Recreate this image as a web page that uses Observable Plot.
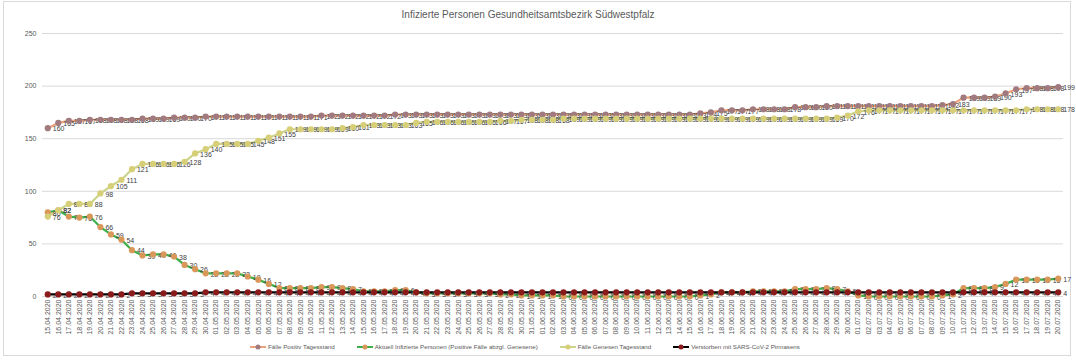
<!DOCTYPE html>
<html><head><meta charset="utf-8">
<script src="https://cdn.jsdelivr.net/npm/d3@7"></script>
<script src="https://cdn.jsdelivr.net/npm/@observablehq/plot@0.6"></script>
<style>
html,body{margin:0;padding:0;background:#fff;}
body{font-family:"Liberation Sans",Arial,sans-serif;}
#wrap{position:relative;width:1076px;height:361px;overflow:hidden;}
#frame{position:absolute;left:3px;top:1px;width:1068px;height:355px;border:1px solid #d9d9d9;box-sizing:border-box;}
#title{position:absolute;left:0;top:9px;width:1056px;text-align:center;font-size:10px;color:#595959;}
#chart{position:absolute;left:0;top:24px;}
#legend{position:absolute;left:0;top:343px;width:1050px;display:flex;justify-content:center;gap:22px;font-size:6.2px;color:#595959;align-items:center;}
#legend .it{display:flex;align-items:center;gap:2px;}
</style></head>
<body>
<div id="wrap">
<div id="frame"></div>
<div id="title">Infizierte Personen Gesundheitsamtsbezirk Südwestpfalz</div>
<div id="chart"></div>
<div id="legend"></div>
</div>
<script>
const dates = ["15.04.2020","16.04.2020","17.04.2020","18.04.2020","19.04.2020","20.04.2020","21.04.2020","22.04.2020","23.04.2020","24.04.2020","25.04.2020","26.04.2020","27.04.2020","28.04.2020","29.04.2020","30.04.2020",
"01.05.2020","02.05.2020","03.05.2020","04.05.2020","05.05.2020","06.05.2020","07.05.2020","08.05.2020","09.05.2020","10.05.2020","11.05.2020","12.05.2020","13.05.2020","14.05.2020","15.05.2020","16.05.2020","17.05.2020","18.05.2020","19.05.2020","20.05.2020","21.05.2020","22.05.2020","23.05.2020","24.05.2020","25.05.2020","26.05.2020","27.05.2020","28.05.2020","29.05.2020","30.05.2020","31.05.2020",
"01.06.2020","02.06.2020","03.06.2020","04.06.2020","05.06.2020","06.06.2020","07.06.2020","08.06.2020","09.06.2020","10.06.2020","11.06.2020","12.06.2020","13.06.2020","14.06.2020","15.06.2020","16.06.2020","17.06.2020","18.06.2020","19.06.2020","20.06.2020","21.06.2020","22.06.2020","23.06.2020","24.06.2020","25.06.2020","26.06.2020","27.06.2020","28.06.2020","29.06.2020","30.06.2020",
"01.07.2020","02.07.2020","03.07.2020","04.07.2020","05.07.2020","06.07.2020","07.07.2020","08.07.2020","09.07.2020","10.07.2020","11.07.2020","12.07.2020","13.07.2020","14.07.2020","15.07.2020","16.07.2020","17.07.2020","18.07.2020","19.07.2020","20.07.2020"];

const positiv = [160,165,167,167,168,168,168,168,168,169,169,169,170,170,170,
171,171,171,171,171,171,171,171,171,171,171,
172,172,172,172,172,172,172,
173,173,173,173,173,173,173,173,173,173,173,173,173,173,173,173,173,173,173,173,173,173,173,173,173,173,173,173,173,
174,175,177,177,177,178,178,178,178,180,180,180,
181,181,181,181,181,181,181,181,181,181,181,
182,183,189,189,189,190,193,197,198,198,198,199];

const aktuell = [80,82,76,75,76,66,59,54,44,39,40,40,38,30,26,22,22,22,22,19,16,12,8,8,8,8,9,9,8,7,5,5,5,6,6,4,
3,3,3,3,3,3,3,2,2,1,1,1,1,
0,0,0,0,0,0,0,0,0,0,0,0,0,
1,2,4,4,4,5,5,5,5,7,7,7,8,7,5,1,
0,0,0,0,0,0,0,
1,2,8,8,8,9,12,16,16,16,16,17];

const genesen = [76,82,88,88,88,98,105,111,121,126,126,126,126,128,136,140,145,145,145,145,148,151,155,
159,159,159,159,159,160,161,163,163,163,163,163,165,
166,166,166,166,166,166,166,167,167,168,168,168,168,
169,169,169,169,169,169,169,169,169,169,169,169,169,169,169,169,169,169,169,169,169,169,169,169,169,169,
170,172,176,
177,177,177,177,177,177,177,177,177,177,177,177,177,177,177,
178,178,178,178];

const verstorben = [2,2,2,2,2,2,2,2,3,3,3,3,3,3,3,
4,4,4,4,4,4,4,4,4,4,4,4,4,4,4,4,4,4,4,4,4,4,4,4,4,4,4,4,4,4,4,4,4,4,4,
4,4,4,4,4,4,4,4,4,4,4,4,4,4,4,4,4,4,4,4,4,4,4,4,4,4,4,4,4,4,4,4,4,4,4,
4,4,4,4,4,4,4,4,4,4,4,4];

const yTicks = [0,50,100,150,200,250];

const seriesNames = ["Fälle Positiv Tagesstand","Aktuell Infizierte Personen (Positive Fälle abzgl. Genesene)","Fälle Genesen Tagesstand","Verstorben mit SARS-CoV-2 Pirmasens"];
const lineColors = ["#eba27c","#3dae49","#cdd38a","#000000"];
const dotColors = ["#a07a7e","#d9975a","#d7cf78","#8a1b1b"];
const valueSets = [positiv, aktuell, genesen, verstorben];

const tables = valueSets.map(vals => dates.map((d,i) => ({date:d, v:vals[i]})));

const marks = [Plot.gridY(yTicks, {stroke:"#d9d9d9", strokeOpacity:1, strokeWidth:1})];
tables.forEach((t,k) => marks.push(Plot.line(t, {x:"date", y:"v", stroke:lineColors[k], strokeWidth:2.2})));
tables.forEach((t,k) => marks.push(Plot.text(t, {x:"date", y:"v", text:d=>String(d.v), dx:5, dy:1, textAnchor:"start", fontSize:7, fill:"#404040"})));
tables.forEach((t,k) => marks.push(Plot.dot(t, {x:"date", y:"v", r:3.1, fill:dotColors[k], stroke:"none"})));

const chart = Plot.plot({
  width:1076, height:318,
  marginLeft:42, marginRight:13, marginTop:9, marginBottom:46,
  style:{fontFamily:'"Liberation Sans",Arial,sans-serif', fontSize:"7px", color:"#595959", background:"transparent", overflow:"visible"},
  x:{type:"point", domain:dates, padding:0.5, label:null, tickRotate:-90, tickSize:0, tickPadding:3},
  y:{domain:[0,250], ticks:yTicks, label:null, tickSize:0, tickPadding:6},
  marks
});
document.getElementById("chart").appendChild(chart);

const leg = document.getElementById("legend");
seriesNames.forEach((n,k) => {
  const it = document.createElement("div");
  it.className = "it";
  it.innerHTML = `<svg width="16" height="6"><line x1="0" y1="3" x2="16" y2="3" stroke="${lineColors[k]}" stroke-width="2"/><circle cx="8" cy="3" r="2.5" fill="${dotColors[k]}"/></svg><span>${n}</span>`;
  leg.appendChild(it);
});
</script>
</body></html>
